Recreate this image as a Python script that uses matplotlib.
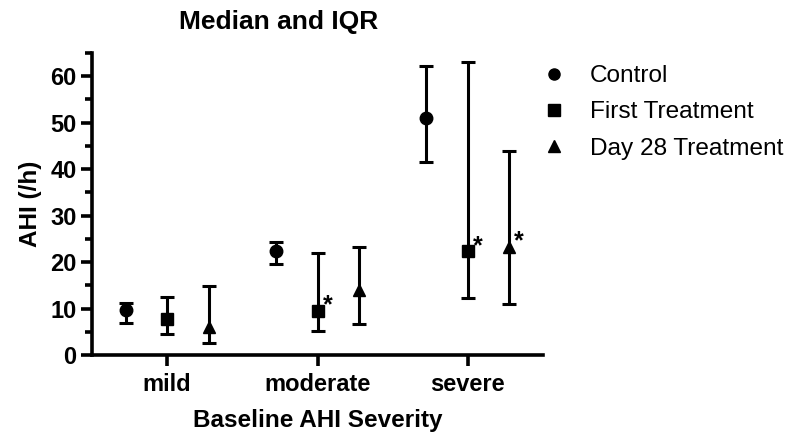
import matplotlib
matplotlib.use("Agg")
import matplotlib.pyplot as plt
import numpy as np
from matplotlib.ticker import MultipleLocator

categories = ["mild", "moderate", "severe"]
series = ["Control", "First Treatment", "Day 28 Treatment"]
markers = ["o", "s", "^"]

control_median = [9.7, 22.4, 51.0]
control_q1 = [6.9, 19.6, 41.5]
control_q3 = [11.2, 24.3, 62.1]

first_median = [7.7, 9.5, 22.3]
first_q1 = [4.5, 5.2, 12.2]
first_q3 = [12.5, 21.9, 63.0]

day28_median = [6.0, 14.0, 23.3]
day28_q1 = [2.6, 6.6, 11.0]
day28_q3 = [14.8, 23.3, 44.0]

# significance flags (asterisk) per series per category
first_sig = [False, True, True]
day28_sig = [False, False, True]
control_sig = [False, False, False]

medians = [control_median, first_median, day28_median]
q1s = [control_q1, first_q1, day28_q1]
q3s = [control_q3, first_q3, day28_q3]
sigs = [control_sig, first_sig, day28_sig]

plt.rcParams['font.family'] = ['Liberation Sans', 'DejaVu Sans']

fig = plt.figure(figsize=(7.91, 4.34), dpi=100)
ax = fig.add_axes([92/791, 1-355/434, (543-92)/791, (355-53)/434])

offsets = [-0.275, 0.0, 0.275]
xbase = np.arange(len(categories))
lw = 2.2
for i in range(3):
    x = xbase + offsets[i]
    med = np.array(medians[i]); lo = np.array(q1s[i]); hi = np.array(q3s[i])
    ax.errorbar(x, med, yerr=[med - lo, hi - med], fmt=markers[i], color='black',
                ms=9, elinewidth=lw, capsize=5, capthick=lw,
                label=series[i], clip_on=False)
    for j in range(3):
        if sigs[i][j]:
            ax.text(x[j] + 0.065, med[j] + 1.2, "*", fontsize=18, fontweight='bold',
                    ha='center', va='center')

ax.set_xlim(-0.5, 2.5)
ax.set_ylim(0, 65)
ax.set_xticks(xbase)
ax.set_xticklabels(categories)
ax.yaxis.set_major_locator(MultipleLocator(10))
ax.yaxis.set_minor_locator(MultipleLocator(5))
ax.set_yticks([0, 10, 20, 30, 40, 50, 60])

for s in ['top', 'right']:
    ax.spines[s].set_visible(False)
for s in ['left', 'bottom']:
    ax.spines[s].set_linewidth(2.6)

ax.tick_params(axis='both', which='major', width=2.6, length=8, labelsize=17, pad=3)
ax.tick_params(axis='x', which='major', pad=5)
ax.tick_params(axis='y', which='minor', width=2.6, length=5)
for lab in ax.get_xticklabels() + ax.get_yticklabels():
    lab.set_fontweight('bold')

ax.set_xlabel("Baseline AHI Severity", fontsize=17.5, fontweight='bold', labelpad=9)
ax.set_ylabel("AHI (/h)", fontsize=17.5, fontweight='bold', labelpad=6)
fig.text(279/791, 1-22/434, "Median and IQR", fontsize=19, fontweight='bold',
         ha='center', va='center')

hs = [plt.Line2D([], [], marker=m, color='black', linestyle='none', ms=8) for m in markers]
leg = fig.legend(hs, series, loc='upper left', bbox_to_anchor=(515/791, 1-43/434),
                 frameon=False, fontsize=17.6, handletextpad=0.75, labelspacing=0.58,
                 handlelength=1.4)

fig.savefig("out.png", dpi=100)
